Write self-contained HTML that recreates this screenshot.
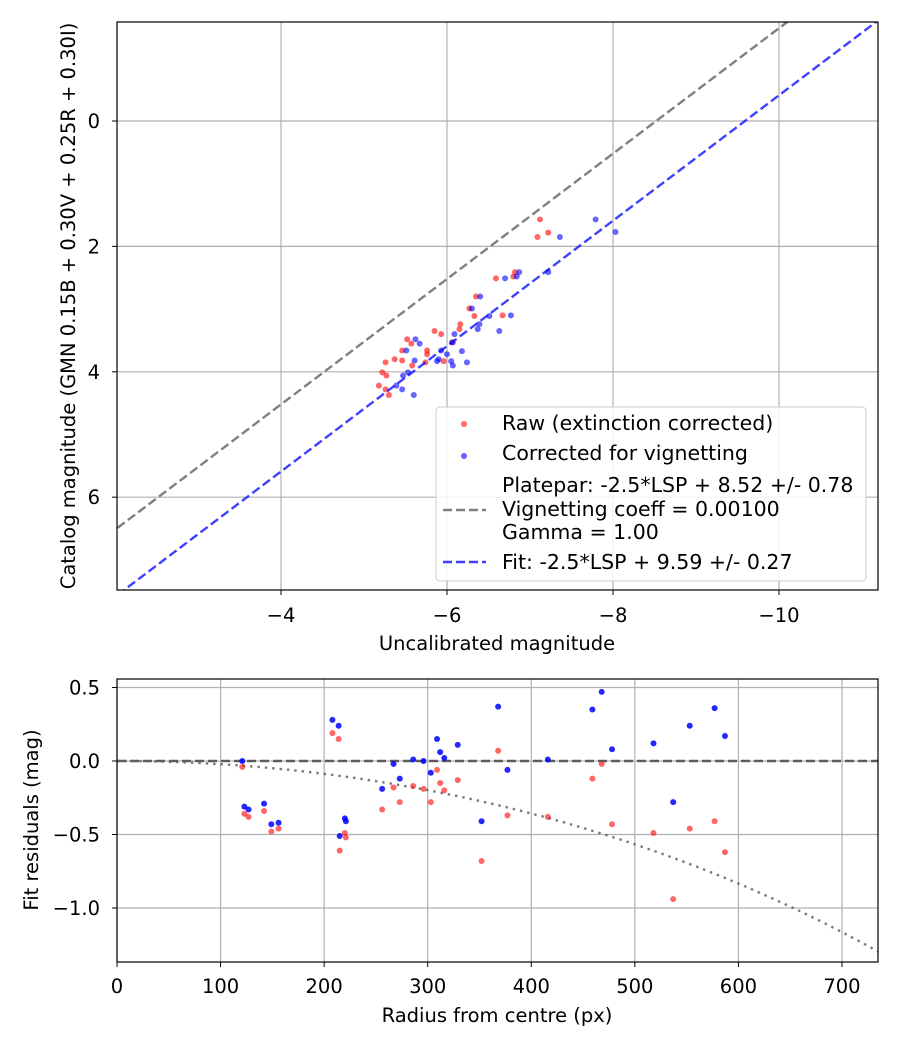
<!DOCTYPE html>
<html><head><meta charset="utf-8"><style>
body{margin:0;background:#fff}
svg text{font-family:"DejaVu Sans","Liberation Sans",sans-serif;fill:#000}
</style></head><body>
<svg id="c" width="900" height="1050" xmlns="http://www.w3.org/2000/svg"></svg>
<script>
// Top chart data
const rawX=[-7.12,-7.22,-7.09,-6.82,-6.80,-6.59,-6.35,-6.27,-6.33,-6.67,-6.16,-6.15,-5.85,-5.93,-5.52,-5.57,-5.46,-5.76,-5.76,-5.37,-5.46,-5.58,-5.26,-5.74,-5.96,-5.22,-5.27,-5.18,-5.26,-5.30,-6.06];
const rawY=[1.57,1.78,1.85,2.41,2.48,2.51,2.80,2.99,3.11,3.10,3.24,3.32,3.35,3.40,3.48,3.55,3.66,3.66,3.72,3.80,3.82,3.90,3.85,3.85,3.83,4.01,4.06,4.22,4.28,4.37,3.53];
const corX=[-7.79,-8.03,-7.36,-7.22,-6.87,-6.84,-6.70,-6.40,-6.30,-6.77,-6.51,-6.39,-6.37,-6.63,-6.09,-6.07,-5.62,-5.67,-5.51,-5.93,-6.00,-6.18,-5.61,-5.88,-5.90,-6.05,-6.07,-6.24,-5.47,-5.53,-5.39,-5.46,-5.60];
const corY=[1.57,1.77,1.85,2.41,2.41,2.48,2.51,2.80,2.99,3.10,3.11,3.24,3.32,3.35,3.40,3.53,3.48,3.55,3.66,3.66,3.72,3.67,3.82,3.83,3.80,3.83,3.90,3.85,4.06,4.01,4.22,4.28,4.37];
const platepar=8.52, fitZp=9.59;
const topXTicks=[-4,-6,-8,-10], topYTicks=[0,2,4,6];
// Bottom chart data
const radius=[121,123,127,142,149,156,208,214,215,220,221,256,267,273,286,296,303,309,312,316,329,352,368,377,416,459,468,478,518,537,553,577,587];
const resRaw=[-0.04,-0.36,-0.38,-0.34,-0.48,-0.46,0.19,0.15,-0.61,-0.49,-0.52,-0.33,-0.18,-0.28,-0.17,-0.19,-0.28,-0.06,-0.15,-0.20,-0.13,-0.68,0.07,-0.37,-0.38,-0.12,-0.02,-0.43,-0.49,-0.94,-0.46,-0.41,-0.62];
const resCor=[0.00,-0.31,-0.33,-0.29,-0.43,-0.42,0.28,0.24,-0.51,-0.39,-0.41,-0.19,-0.02,-0.12,0.01,0.00,-0.08,0.15,0.06,0.02,0.11,-0.41,0.37,-0.06,0.01,0.35,0.47,0.08,0.12,-0.28,0.24,0.36,0.17];
const vignCoeff=0.001;
const botXTicks=[0,100,200,300,400,500,600,700], botYTicks=[0.5,0,-0.5,-1.0], botYLabels=["0.5","0.0","−0.5","−1.0"];

const FS=19.5, LFS=20.5;
const NS="http://www.w3.org/2000/svg", svg=document.getElementById('c');
function el(t,a,p){const e=document.createElementNS(NS,t);for(const k in a)e.setAttribute(k,a[k]);(p||svg).appendChild(e);return e;}
const tx=m=>281+(-m-4)*83, ty=v=>121+v*62.7;
const bx=r=>117+r*1.0357, by=v=>761-v*147;

const gTop=el('g',{});


const cpT=el('clipPath',{id:'ct'});el('rect',{x:117,y:22,width:761,height:568},cpT);
topXTicks.forEach(v=>{const l=el('line',{x1:tx(v),x2:tx(v),y1:22,y2:590,stroke:'#b0b0b0','stroke-width':1.2},gTop);

el('line',{x1:tx(v),x2:tx(v),y1:590,y2:595,stroke:'#000'},gTop);
const t=el('text',{x:tx(v),y:622,'font-size':FS,'text-anchor':'middle'},gTop);t.textContent='−'+Math.abs(v);
});
topYTicks.forEach(v=>{const l=el('line',{x1:117,x2:878,y1:ty(v),y2:ty(v),stroke:'#b0b0b0','stroke-width':1.2},gTop);

el('line',{x1:112,x2:117,y1:ty(v),y2:ty(v),stroke:'#000'},gTop);
const t=el('text',{x:100,y:ty(v)+7,'font-size':FS,'text-anchor':'end'},gTop);t.textContent=v;
});
const gl=el('g',{'clip-path':'url(#ct)'},gTop);
const m0=-2.03,m1=-11.2;
const pl=el('line',{x1:tx(m0),y1:ty(m0+platepar),x2:tx(m1),y2:ty(m1+platepar),stroke:'#808080','stroke-width':2.4,'stroke-dasharray':'9,4'},gl);

rawX.forEach((x,i)=>{const c=el('circle',{cx:tx(x),cy:ty(rawY[i]),r:3,fill:'red','fill-opacity':0.6},gl);
});
corX.forEach((x,i)=>{const c=el('circle',{cx:tx(x),cy:ty(corY[i]),r:3,fill:'blue','fill-opacity':0.6},gl);
});
const fl=el('line',{x1:tx(m0),y1:ty(m0+fitZp),x2:tx(m1),y2:ty(m1+fitZp),stroke:'blue','stroke-opacity':0.75,'stroke-width':2.4,'stroke-dasharray':'9,4'},gl);

el('rect',{x:117,y:22,width:761,height:568,fill:'none',stroke:'#000','stroke-width':1.2},gTop);
let t=el('text',{x:497,y:650,'font-size':FS,'text-anchor':'middle'},gTop);t.textContent='Uncalibrated magnitude';

t=el('text',{x:0,y:0,'font-size':FS,'text-anchor':'middle',transform:'translate(75,306) rotate(-90)'},gTop);t.textContent='Catalog magnitude (GMN 0.15B + 0.30V + 0.25R + 0.30I)';

// legend
const lg=el('g',{},gTop);

el('rect',{x:436,y:407,width:430,height:174,rx:4,fill:'#fff','fill-opacity':0.85,stroke:'#ccc'},lg);
el('circle',{cx:464,cy:424,r:3,fill:'red','fill-opacity':0.6},lg);
el('circle',{cx:464,cy:456,r:3,fill:'blue','fill-opacity':0.6},lg);
el('line',{x1:443,x2:486,y1:510,y2:510,stroke:'#808080','stroke-width':2.4,'stroke-dasharray':'9,4'},lg);
el('line',{x1:443,x2:486,y1:562,y2:562,stroke:'blue','stroke-opacity':0.75,'stroke-width':2.4,'stroke-dasharray':'9,4'},lg);
[['Raw (extinction corrected)',430],['Corrected for vignetting',460],['Platepar: -2.5*LSP + 8.52 +/- 0.78',492],['Vignetting coeff = 0.00100',516],['Gamma = 1.00',539],['Fit: -2.5*LSP + 9.59 +/- 0.27',569]].forEach(([s,y])=>{
const e=el('text',{x:502,y:y,'font-size':LFS},lg);e.textContent=s;
});

// bottom chart
const gB=el('g',{});


const cpB=el('clipPath',{id:'cb'});el('rect',{x:117,y:679,width:761,height:283},cpB);
botXTicks.forEach(v=>{const l=el('line',{x1:bx(v),x2:bx(v),y1:679,y2:962,stroke:'#b0b0b0','stroke-width':1.2},gB);

el('line',{x1:bx(v),x2:bx(v),y1:962,y2:967,stroke:'#000'},gB);
const t=el('text',{x:bx(v),y:993,'font-size':FS,'text-anchor':'middle'},gB);t.textContent=v;
});
botYTicks.forEach((v,i)=>{const l=el('line',{x1:117,x2:878,y1:by(v),y2:by(v),stroke:'#b0b0b0','stroke-width':1.2},gB);

el('line',{x1:112,x2:117,y1:by(v),y2:by(v),stroke:'#000'},gB);
const t=el('text',{x:100,y:by(v)+7,'font-size':FS,'text-anchor':'end'},gB);t.textContent=botYLabels[i];
});
const gb=el('g',{'clip-path':'url(#cb)'},gB);
const zl=el('line',{x1:117,x2:878,y1:by(0),y2:by(0),stroke:'#404040','stroke-opacity':0.8,'stroke-width':2.4,'stroke-dasharray':'9,4'},gb);

let d='';for(let r=0;r<=740;r+=5){const v=10*Math.log10(Math.cos(r*vignCoeff));d+=(r?'L':'M')+bx(r).toFixed(1)+','+by(v).toFixed(1);}
const vc=el('path',{d:d,fill:'none',stroke:'#606060','stroke-opacity':0.85,'stroke-width':2.4,'stroke-dasharray':'2.4,5'},gb);

radius.forEach((r,i)=>{const c=el('circle',{cx:bx(r),cy:by(resRaw[i]),r:3,fill:'red','fill-opacity':0.6},gb);
});
radius.forEach((r,i)=>{const c=el('circle',{cx:bx(r),cy:by(resCor[i]),r:3,fill:'blue','fill-opacity':0.85},gb);
});
el('rect',{x:117,y:679,width:761,height:283,fill:'none',stroke:'#000','stroke-width':1.2},gB);
t=el('text',{x:497,y:1022,'font-size':FS,'text-anchor':'middle'},gB);t.textContent='Radius from centre (px)';

t=el('text',{x:0,y:0,'font-size':FS,'text-anchor':'middle',transform:'translate(38,820) rotate(-90)'},gB);t.textContent='Fit residuals (mag)';

</script>
</body></html>
